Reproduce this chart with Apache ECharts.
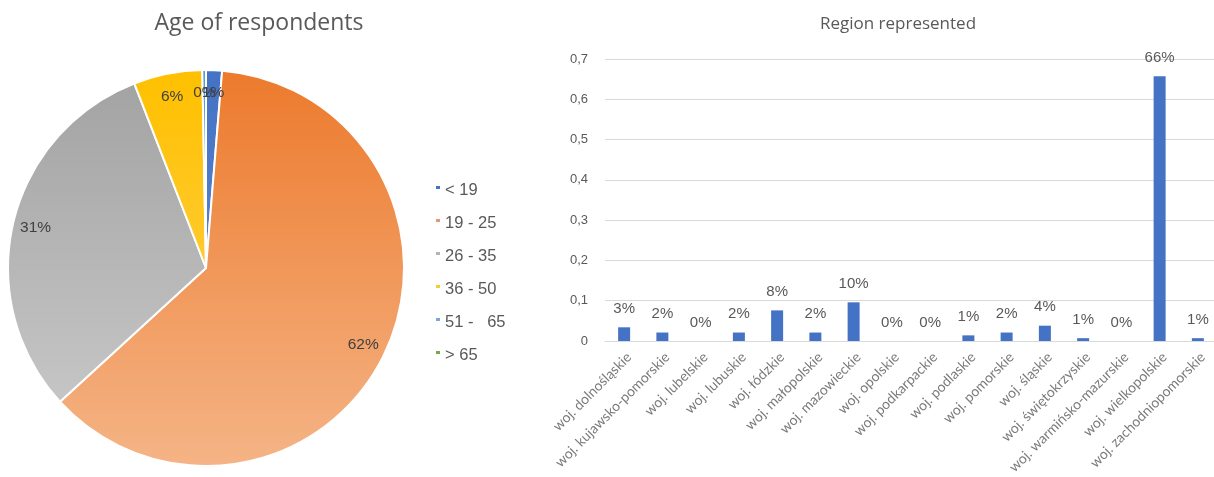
<!DOCTYPE html>
<html>
<head>
<meta charset="utf-8">
<title>Survey: age and region</title>
<script src="https://cdn.jsdelivr.net/npm/echarts@6/dist/echarts.min.js"></script>
<style>
  html, body { margin: 0; padding: 0; background: #ffffff; }
  #chart { width: 1214px; height: 477px; }
</style>
</head>
<body>
<div id="chart"></div>
<script>
// Age groups (share of respondents, %)
const ageGroups = ['< 19', '19 - 25', '26 - 35', '36 - 50', '51 -   65', '> 65'];
const ageShares = [1.3, 61.9, 30.9, 5.6, 0.3, 0];

// Regions (share of respondents, fraction)
const regions = [
  'woj. dolnośląskie', 'woj. kujawsko-pomorskie', 'woj. lubelskie', 'woj. lubuskie',
  'woj. łódzkie', 'woj. małopolskie', 'woj. mazowieckie', 'woj. opolskie',
  'woj. podkarpackie', 'woj. podlaskie', 'woj. pomorskie', 'woj. śląskie',
  'woj. świętokrzyskie', 'woj. warmińsko-mazurskie', 'woj. wielkopolskie', 'woj. zachodniopomorskie'
];
const regionShares = [0.034, 0.021, 0, 0.021, 0.076, 0.021, 0.096, 0, 0, 0.014, 0.021, 0.038, 0.007, 0, 0.657, 0.007];

const yTicks = { min: 0, max: 0.7, step: 0.1 };

const TITLE_FONT = '"Open Sans", Lato, sans-serif';
const SANS = '"Liberation Sans", Arial, sans-serif';
const LABEL_FONT = 'Lato, "Open Sans", sans-serif';
const TEXT = '#595959';

// pie geometry
const pieCenter = [206, 268];
const pieR = 198;

function vgrad(top, bottom) {
  return new echarts.graphic.LinearGradient(0, pieCenter[1] - pieR, 0, pieCenter[1] + pieR,
    [{ offset: 0, color: top }, { offset: 1, color: bottom }], true);
}
const sliceFills = [
  vgrad('#4472c4', '#6a8fd3'),
  vgrad('#ec7a2c', '#f5b486'),
  vgrad('#a2a2a2', '#cccccc'),
  vgrad('#ffc000', '#ffd45c'),
  vgrad('#5b9bd5', '#8cbbe4'),
  vgrad('#70ad47', '#9bc97c')
];
const legendColors = ['#4472c4', '#e39a72', '#b4b4b4', '#f0d030', '#7aa8d8', '#70ad47'];

const pieData = ageGroups.map((name, i) => ({
  name: name, value: ageShares[i], itemStyle: { color: sliceFills[i] }
}));
// labels for every group that holds respondents
const pieLabelData = ageGroups
  .map((name, i) => ({ name: name, value: ageShares[i] }))
  .filter(d => d.value > 0);

const chart = echarts.init(document.getElementById('chart'), null, { renderer: 'canvas' });

chart.setOption({
  animation: false,
  textStyle: { fontFamily: SANS },
  title: [
    {
      text: 'Age of respondents', left: 254, top: 7, textAlign: 'center',
      textStyle: { fontFamily: TITLE_FONT, fontSize: 23, fontWeight: 'normal', color: TEXT }
    },
    {
      text: 'Region represented', left: 893, top: 11, textAlign: 'center',
      textStyle: { fontFamily: TITLE_FONT, fontSize: 17, fontWeight: 'normal', color: TEXT }
    }
  ],
  legend: {
    orient: 'vertical', left: 429, top: 177, padding: 5,
    itemWidth: 6, itemHeight: 5, itemGap: 16, icon: 'rect',
    formatter: name => '{t|' + name + '}',
    textStyle: {
      fontFamily: SANS, fontSize: 16.5, color: TEXT,
      // text sits a little lower than the marker
      rich: { t: { fontFamily: SANS, fontSize: 16.5, color: TEXT, padding: [6, 0, 0, -1] } }
    },
    data: ageGroups.map((n, i) => ({ name: n, itemStyle: { color: legendColors[i] } }))
  },
  grid: { left: 605, top: 59, width: 612, height: 282, outerBoundsMode: 'none', containLabel: false },
  xAxis: {
    type: 'category', data: regions,
    axisLine: { lineStyle: { color: '#d9d9d9' } },
    axisTick: { show: false },
    axisLabel: {
      interval: 0, rotate: 45, margin: 9, verticalAlign: 'top',
      fontSize: 14, color: '#7a7a7a', fontFamily: LABEL_FONT
    }
  },
  yAxis: {
    type: 'value', min: yTicks.min, max: yTicks.max, interval: yTicks.step,
    axisLine: { show: false }, axisTick: { show: false },
    splitLine: { lineStyle: { color: '#d9d9d9' } },
    axisLabel: {
      margin: 17, fontSize: 13, color: TEXT, fontFamily: SANS,
      formatter: v => String(Math.round(v * 10) / 10).replace('.', ',')
    }
  },
  series: [
    {
      name: 'Age', type: 'pie', center: pieCenter, radius: [0, pieR],
      startAngle: 90, clockwise: true, avoidLabelOverlap: false,
      itemStyle: { borderColor: '#ffffff', borderWidth: 2 },
      label: { show: false }, labelLine: { show: false },
      emphasis: { disabled: true },
      data: pieData
    },
    {
      // label ring: places percentage labels near the rim
      name: 'AgeLabels', type: 'pie', center: pieCenter, radius: [146, pieR],
      startAngle: 90, clockwise: true, avoidLabelOverlap: false, silent: true,
      itemStyle: { color: 'rgba(0,0,0,0)', borderWidth: 0 },
      label: {
        show: true, position: 'inside', fontSize: 15.5, color: '#404040', fontFamily: SANS,
        formatter: p => Math.round(p.value) + '%'
      },
      labelLine: { show: false },
      labelLayout: { hideOverlap: false },
      emphasis: { disabled: true },
      data: pieLabelData
    },
    {
      name: 'Region', type: 'bar', data: regionShares, barWidth: 12,
      itemStyle: { color: '#4472c4' },
      label: {
        show: true, position: 'top', distance: 11, fontSize: 15, color: TEXT, fontFamily: SANS,
        formatter: p => Math.round(p.value * 100) + '%'
      },
      emphasis: { disabled: true }
    }
  ]
});
</script>
</body>
</html>
